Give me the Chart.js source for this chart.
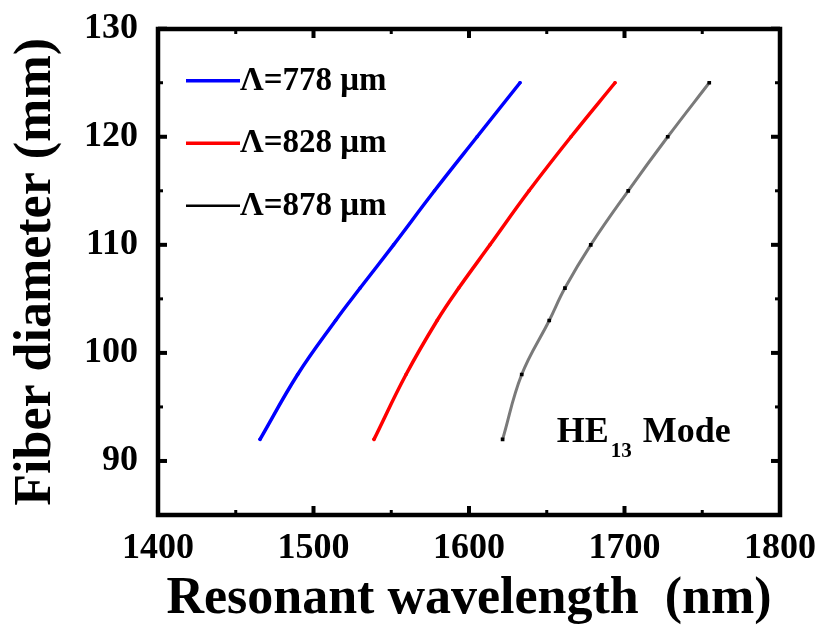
<!DOCTYPE html>
<html>
<head>
<meta charset="utf-8">
<script src="https://cdn.jsdelivr.net/npm/chart.js@4.4.0/dist/chart.umd.min.js"></script>
<style>
  html, body { margin: 0; padding: 0; background: #ffffff; }
  #wrap { width: 822px; height: 632px; }
</style>
</head>
<body>
<div id="wrap"><canvas id="c" width="822" height="632"></canvas></div>
<script>
// Fiber diameter (mm) versus resonant wavelength (nm) for three grating periods
const diameters = [92, 98, 103, 106, 110, 115, 120, 125];
const wl778 = [1465.6, 1489.8, 1514.2, 1530.0, 1551.5, 1577.8, 1605.2, 1632.8];
const wl828 = [1538.9, 1559.5, 1579.5, 1593.4, 1613.5, 1638.6, 1665.6, 1693.9];
const wl878 = [1621.6, 1633.9, 1651.6, 1661.7, 1678.3, 1702.4, 1727.8, 1754.5];
const seriesLabels = ['Λ=778 μm', 'Λ=828 μm', 'Λ=878 μm'];
const xTicks = [1400, 1500, 1600, 1700, 1800];
const yTicks = [90, 100, 110, 120, 130];
const xMinor = [1450, 1550, 1650, 1750];
const yMinor = [95, 105, 115, 125];

const SERIF = "'Liberation Serif', 'Times New Roman', serif";

function pairs(xs) {
  return xs.map((x, i) => ({ x: x, y: diameters[i] }));
}

// Closed frame with inward major/minor ticks on all four sides
const framePlugin = {
  id: 'boxFrame',
  afterDraw(chart) {
    const { ctx, chartArea: a, scales: { x, y } } = chart;
    const L = Math.round(a.left), R = Math.round(a.right);
    const T = Math.round(a.top), B = Math.round(a.bottom);
    ctx.save();
    ctx.fillStyle = '#000';
    const MAJ = 9, MIN = 5;
    const xt = (v, len, w) => {
      const px = x.getPixelForValue(v);
      ctx.fillRect(px - w / 2, B - len, w, len);
      ctx.fillRect(px - w / 2, T, w, len);
    };
    const yt = (v, len, w) => {
      const py = y.getPixelForValue(v);
      ctx.fillRect(L, py - w / 2, len, w);
      ctx.fillRect(R - len, py - w / 2, len, w);
    };
    xTicks.forEach(v => xt(v, MAJ, 4));
    xMinor.forEach(v => xt(v, MIN, 3));
    yTicks.forEach(v => yt(v, MAJ, 4));
    yMinor.forEach(v => yt(v, MIN, 3));
    // frame edges
    ctx.strokeStyle = '#000000';
    ctx.lineWidth = 4.5;
    ctx.lineJoin = 'miter';
    ctx.beginPath();
    ctx.moveTo(L, T);
    ctx.lineTo(R, T);
    ctx.lineTo(R, B);
    ctx.lineTo(L, B);
    ctx.closePath();
    ctx.stroke();
    ctx.restore();
  }
};

// Legend inside the plot (top-left) and the mode annotation
const notesPlugin = {
  id: 'notes',
  afterDatasetsDraw(chart) {
    const { ctx, chartArea: a, scales: { x, y } } = chart;
    ctx.save();
    chart.data.datasets.forEach((ds, i) => {
      const ly = a.top + 52 + i * 62.5;
      ctx.strokeStyle = ds.legendColor;
      ctx.lineWidth = ds.legendWidth;
      ctx.lineCap = 'butt';
      ctx.beginPath();
      ctx.moveTo(a.left + 28, ly);
      ctx.lineTo(a.left + 82, ly);
      ctx.stroke();
      ctx.fillStyle = '#000';
      ctx.font = 'bold 33px ' + SERIF;
      ctx.textAlign = 'left';
      ctx.textBaseline = 'alphabetic';
      ctx.fillText(ds.label, a.left + 82, ly + 9);
    });
    // HE13 Mode
    const hx = x.getPixelForValue(1656.4);
    const hy = y.getPixelForValue(91.8);
    ctx.fillStyle = '#000';
    ctx.textAlign = 'left';
    ctx.textBaseline = 'alphabetic';
    ctx.font = 'bold 36px ' + SERIF;
    ctx.fillText('HE', hx, hy);
    const w1 = ctx.measureText('HE').width;
    ctx.font = 'bold 21px ' + SERIF;
    ctx.fillText('13', hx + w1 + 2, hy + 15);
    const w2 = ctx.measureText('13').width;
    ctx.font = 'bold 36px ' + SERIF;
    ctx.fillText(' Mode', hx + w1 + w2 + 4, hy);
    ctx.restore();
  }
};

new Chart(document.getElementById('c'), {
  type: 'line',
  data: {
    datasets: [
      {
        label: seriesLabels[0], data: pairs(wl778),
        borderColor: '#0000ff', backgroundColor: '#0000ff', borderWidth: 3.5,
        pointRadius: 1.8, pointBorderWidth: 0, pointBackgroundColor: '#0000ff',
        borderCapStyle: 'round', tension: 0.4,
        legendColor: '#0000ff', legendWidth: 3.5
      },
      {
        label: seriesLabels[1], data: pairs(wl828),
        borderColor: '#ff0000', backgroundColor: '#ff0000', borderWidth: 3.5,
        pointRadius: 1.8, pointBorderWidth: 0, pointBackgroundColor: '#ff0000',
        borderCapStyle: 'round', tension: 0.4,
        legendColor: '#ff0000', legendWidth: 3.5
      },
      {
        label: seriesLabels[2], data: pairs(wl878),
        borderColor: '#7a7a7a', backgroundColor: '#000000', borderWidth: 3,
        pointStyle: 'rect', pointRadius: 2.6, pointBorderWidth: 0, pointBackgroundColor: '#000000',
        tension: 0.4,
        legendColor: '#000000', legendWidth: 2.5
      }
    ]
  },
  options: {
    responsive: false,
    devicePixelRatio: 1,
    animation: false,
    layout: { padding: { left: 0, right: 42, top: 28.7, bottom: 0 } },
    plugins: { legend: { display: false }, tooltip: { enabled: false } },
    scales: {
      x: {
        type: 'linear', min: 1400, max: 1800,
        afterBuildTicks: s => { s.ticks = xTicks.map(v => ({ value: v })); },
        afterFit: s => { s.height = 117; s.paddingLeft = 0; s.paddingRight = 0; },
        grid: { display: false, drawTicks: false },
        border: { display: false },
        ticks: { color: '#000', font: { family: SERIF, size: 36, weight: 'bold' }, padding: 12,
                 maxRotation: 0, autoSkip: false, callback: v => String(v) },
        title: { display: true, text: 'Resonant wavelength  (nm)', color: '#000',
                 font: { family: SERIF, size: 52, weight: 'bold', lineHeight: 1.2 }, padding: { top: 0, bottom: 1 } }
      },
      y: {
        type: 'linear', min: 85, max: 130,
        afterBuildTicks: s => { s.ticks = yTicks.map(v => ({ value: v })); },
        afterFit: s => { s.width = 158; s.paddingTop = 0; s.paddingBottom = 0; },
        grid: { display: false, drawTicks: false },
        border: { display: false },
        ticks: { color: '#000', font: { family: SERIF, size: 36, weight: 'bold' }, padding: 20,
                 autoSkip: false, callback: v => String(v) },
        title: { display: true, text: 'Fiber diameter (mm)', color: '#000',
                 font: { family: SERIF, size: 52, weight: 'bold', lineHeight: 1.2 }, padding: { top: 5, bottom: 0 } }
      }
    }
  },
  plugins: [framePlugin, notesPlugin]
});
</script>
</body>
</html>
